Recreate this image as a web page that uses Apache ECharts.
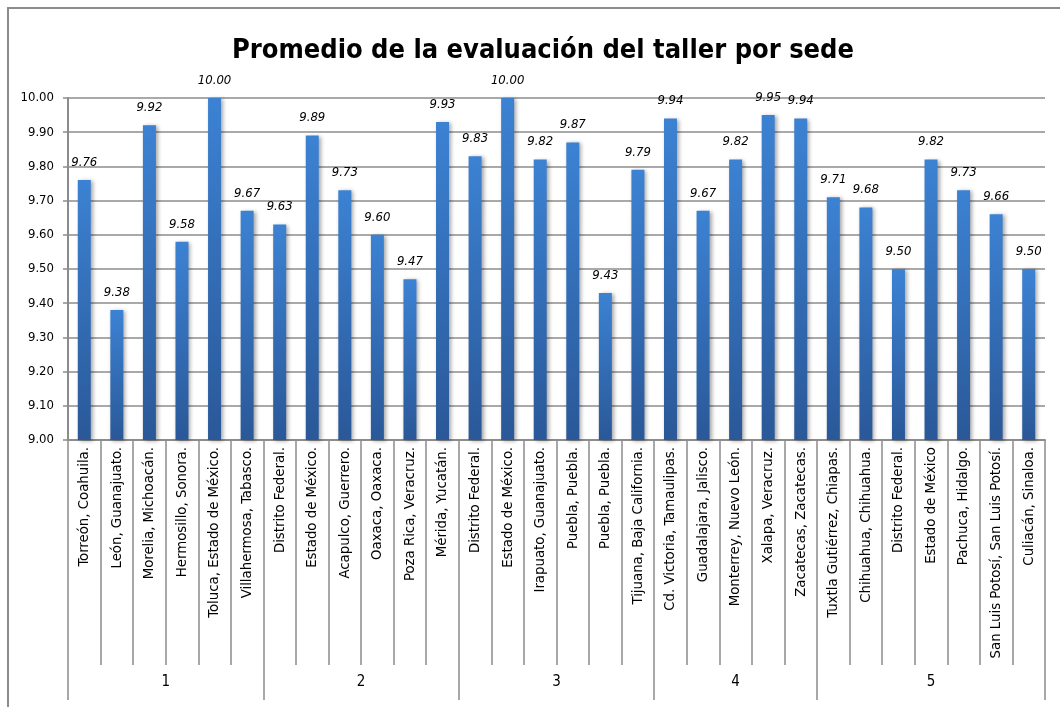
<!DOCTYPE html>
<html>
<head>
<meta charset="utf-8">
<script src="https://cdn.jsdelivr.net/npm/echarts@6/dist/echarts.min.js"></script>
<style>
html,body{margin:0;padding:0;background:#fff;overflow:hidden;}
#frame{position:absolute;left:7px;top:7px;width:1100px;height:800px;border:2px solid #8c8c8c;box-sizing:border-box;}
#chart{position:absolute;left:0;top:0;width:1060px;height:707px;}
</style>
</head>
<body>
<div id="frame"></div>
<div id="chart"></div>
<script>
const categories = [
  "Torreón, Coahuila.", "León, Guanajuato.", "Morelia, Michoacán.", "Hermosillo, Sonora.", "Toluca, Estado de México.", "Villahermosa, Tabasco.",
  "Distrito Federal.", "Estado de México.", "Acapulco, Guerrero.", "Oaxaca, Oaxaca.", "Poza Rica, Veracruz.", "Mérida, Yucatán.",
  "Distrito Federal.", "Estado de México.", "Irapuato, Guanajuato.", "Puebla, Puebla.", "Puebla, Puebla.", "Tijuana, Baja California.",
  "Cd. Victoria, Tamaulipas.", "Guadalajara, Jalisco.", "Monterrey, Nuevo León.", "Xalapa, Veracruz.", "Zacatecas, Zacatecas.",
  "Tuxtla Gutiérrez, Chiapas.", "Chihuahua, Chihuahua.", "Distrito Federal.", "Estado de México", "Pachuca, Hidalgo.", "San Luis Potosí, San Luis Potosí.", "Culiacán, Sinaloa."
];
const values = [
  9.76, 9.38, 9.92, 9.58, 10.00, 9.67,
  9.63, 9.89, 9.73, 9.60, 9.47, 9.93,
  9.83, 10.00, 9.82, 9.87, 9.43, 9.79,
  9.94, 9.67, 9.82, 9.95, 9.94,
  9.71, 9.68, 9.50, 9.82, 9.73, 9.66, 9.50
];
const groupNames = ["1", "2", "3", "4", "5"];
const groupSizes = [6, 6, 6, 5, 7];
const yTicks = ["9.00","9.10","9.20","9.30","9.40","9.50","9.60","9.70","9.80","9.90","10.00"];

// group boundaries and centres derived from group sizes
const boundaries = [0];
groupSizes.forEach(s => boundaries.push(boundaries[boundaries.length - 1] + s));
const centres = groupSizes.map((s, i) => boundaries[i] + s / 2);
const centreLabel = {};
centres.forEach((c, i) => { centreLabel[c] = groupNames[i]; });

const FONT = "'Liberation Sans Narrow', 'Arial Narrow', 'DejaVu Sans Condensed', sans-serif";
const chart = echarts.init(document.getElementById('chart'), null, {renderer: 'canvas'});
chart.setOption({
  animation: false,
  backgroundColor: 'transparent',
  title: {
    text: 'Promedio de la evaluación del taller por sede',
    left: 227, top: 32,
    textStyle: {fontFamily: FONT, fontSize: 27, fontWeight: 'bold', color: '#000'}
  },
  grid: {left: 68, right: 15, top: 98, bottom: 267, containLabel: false},
  xAxis: [{
    type: 'category',
    data: categories,
    boundaryGap: true,
    axisLine: {show: true, lineStyle: {color: '#8c8c8c', width: 2}},
    axisTick: {show: true, interval: 0, length: 225, lineStyle: {color: '#8c8c8c', width: 1.5}},
    axisLabel: {interval: 0, rotate: 90, margin: 7, fontFamily: FONT, fontSize: 14.8, color: '#000'},
    splitLine: {show: false}
  }, {
    type: 'value',
    position: 'bottom',
    min: 0, max: categories.length,
    axisLine: {show: false},
    axisTick: {show: true, length: 260, customValues: boundaries, lineStyle: {color: '#8c8c8c', width: 1.5}},
    axisLabel: {show: true, customValues: centres, margin: 235, fontFamily: FONT, fontSize: 15, color: '#000',
      formatter: v => centreLabel[v] || ''},
    splitLine: {show: false}
  }],
  yAxis: {
    type: 'value', min: 9, max: 10, interval: 0.1,
    axisLine: {show: true, lineStyle: {color: '#8c8c8c', width: 2}},
    axisTick: {show: true, length: 5, lineStyle: {color: '#8c8c8c', width: 1.5}},
    axisLabel: {fontFamily: FONT, fontSize: 13, color: '#000', margin: 14,
      formatter: v => yTicks[Math.round((v - 9) * 10)] || v.toFixed(2)},
    splitLine: {show: true, lineStyle: {color: '#8c8c8c', width: 1.5}}
  },
  series: [{
    type: 'bar',
    xAxisIndex: 0,
    data: values,
    barWidth: 13,
    itemStyle: {
      color: new echarts.graphic.LinearGradient(0, 0, 0, 1, [
        {offset: 0, color: '#3c82d3'},
        {offset: 1, color: '#2a5898'}
      ]),
      shadowColor: 'rgba(0,0,0,0.35)', shadowBlur: 4, shadowOffsetX: 2, shadowOffsetY: 1
    },
    label: {
      show: true, position: 'top', distance: 11,
      formatter: p => p.value.toFixed(2),
      fontFamily: FONT, fontSize: 13, fontStyle: 'italic', fontWeight: 'normal', color: '#000'
    }
  }]
});
</script>
</body>
</html>
